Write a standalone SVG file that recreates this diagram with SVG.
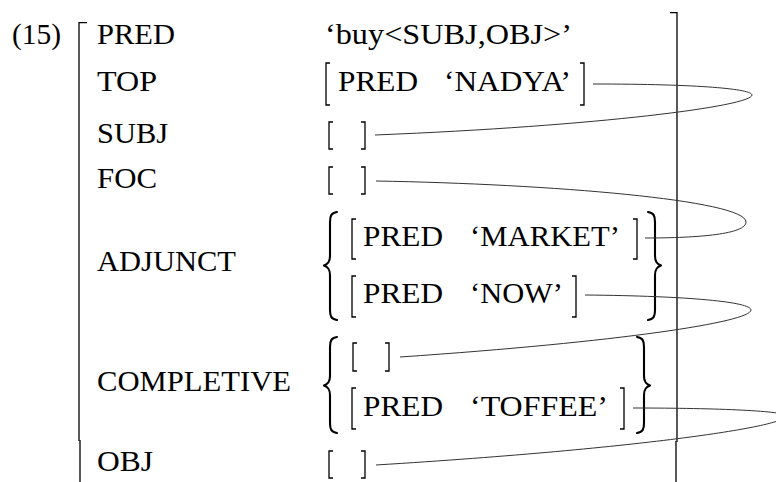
<svg xmlns="http://www.w3.org/2000/svg" width="776" height="482" viewBox="0 0 776 482">
<style>
text{font-family:"Liberation Serif","Times New Roman",serif;font-size:29px;fill:#000}
.br{fill:none;stroke:#000;stroke-width:1.3;stroke-linecap:butt}
.brace{fill:none;stroke:#000;stroke-width:2.1;stroke-linecap:round;stroke-linejoin:round}
.conn{fill:none;stroke:#333;stroke-width:1}
</style>
<rect width="776" height="482" fill="#fff"/>
<g id="example-number"><text x="12" y="44" textLength="49" lengthAdjust="spacingAndGlyphs">(15)</text></g>
<g id="outer-brackets">
<path class="br" d="M87,22.6 H79 V441"/>
<path class="br" d="M80,440 V482"/>
<path class="br" d="M670,12.6 H677 V442"/>
<path class="br" d="M676,441 V482"/>
</g>
<g id="row-pred">
<text x="97" y="44" textLength="78" lengthAdjust="spacingAndGlyphs">PRED</text>
<text x="325" y="44" textLength="247" lengthAdjust="spacingAndGlyphs">‘buy&lt;SUBJ,OBJ&gt;’</text>
</g>
<g id="row-top">
<text x="97" y="91" textLength="60" lengthAdjust="spacingAndGlyphs">TOP</text>
<path class="br" d="M330,63 H326 V105 H330"/>
<text x="338" y="91" textLength="80" lengthAdjust="spacingAndGlyphs">PRED</text>
<text x="444" y="91" textLength="127" lengthAdjust="spacingAndGlyphs">‘NADYA’</text>
<path class="br" d="M580,63 H584 V105 H580"/>
</g>
<g id="row-subj">
<text x="97" y="143" textLength="71" lengthAdjust="spacingAndGlyphs">SUBJ</text>
<path class="br" d="M333,122 H329 V149 H333"/>
<path class="br" d="M361,122 H365 V149 H361"/>
</g>
<g id="row-foc">
<text x="97" y="188" textLength="60" lengthAdjust="spacingAndGlyphs">FOC</text>
<path class="br" d="M333,167 H329 V194 H333"/>
<path class="br" d="M361,167 H365 V194 H361"/>
</g>
<g id="row-adjunct">
<text x="97" y="271" textLength="139" lengthAdjust="spacingAndGlyphs">ADJUNCT</text>
<path class="brace" d="M337,212 C331,213 330,216 330,222 V256 C330,262 328,264 324,265.5 C328,267 330,269 330,275 V310 C330,316 331,319 337,320"/>
<path class="br" d="M356,219 H352 V259 H356"/>
<text x="363" y="246" textLength="80" lengthAdjust="spacingAndGlyphs">PRED</text>
<text x="470" y="246" textLength="150" lengthAdjust="spacingAndGlyphs">‘MARKET’</text>
<path class="br" d="M633,219 H637 V259 H633"/>
<path class="br" d="M356,276 H352 V317 H356"/>
<text x="363" y="303" textLength="80" lengthAdjust="spacingAndGlyphs">PRED</text>
<text x="470" y="303" textLength="93" lengthAdjust="spacingAndGlyphs">‘NOW’</text>
<path class="br" d="M572,276 H576 V317 H572"/>
<path class="brace" d="M648,212 C654,213 655,216 655,222 V256 C655,262 657,264 661,265.5 C657,267 655,269 655,275 V310 C655,316 654,319 648,320"/>
</g>
<g id="row-completive">
<text x="97" y="391" textLength="194" lengthAdjust="spacingAndGlyphs">COMPLETIVE</text>
<path class="brace" d="M337,337 C331,338 330,341 330,347 V376 C330,382 328,384 324,385.5 C328,387 330,389 330,395 V423 C330,429 331,432 337,433"/>
<path class="br" d="M357,343 H353 V371 H357"/>
<path class="br" d="M385,343 H389 V371 H385"/>
<path class="br" d="M356,388 H352 V429 H356"/>
<text x="363" y="416" textLength="80" lengthAdjust="spacingAndGlyphs">PRED</text>
<text x="470" y="416" textLength="138" lengthAdjust="spacingAndGlyphs">‘TOFFEE’</text>
<path class="br" d="M620,388 H624 V429 H620"/>
<path class="brace" d="M637,337 C643,338 644,341 644,347 V376 C644,382 646,384 650,385.5 C646,387 644,389 644,395 V423 C644,429 643,432 637,433"/>
</g>
<g id="row-obj">
<text x="97" y="471" textLength="56" lengthAdjust="spacingAndGlyphs">OBJ</text>
<path class="br" d="M333,451 H329 V478 H333"/>
<path class="br" d="M361,451 H365 V478 H361"/>
</g>
<g id="connectors">
<path class="conn" d="M593,84 C700,84 752,89 752,95 C752,106 600,126 375,135"/>
<path class="conn" d="M376,181 C550,184 746,200 746,222 C746,234 700,238 645,238"/>
<path class="conn" d="M585,295 C690,296 751,302 751,310 C751,322 620,342 400,357"/>
<path class="conn" d="M633,408 C720,408 786,411 786,416 C786,426 650,448 376,465"/>
</g>
</svg>
